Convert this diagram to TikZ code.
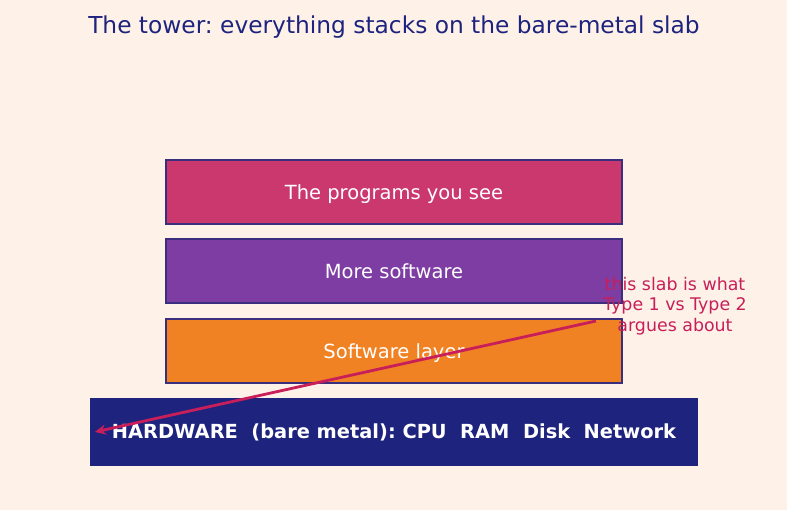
\documentclass[tikz,border=0pt]{standalone}
\usepackage{fontspec}
\setmainfont{DejaVu Sans}
\usetikzlibrary{arrows.meta}
\frenchspacing
\definecolor{bg}{HTML}{FEF2E8}
\definecolor{titlec}{HTML}{1E237E}
\definecolor{pinkc}{HTML}{CA386E}
\definecolor{purpc}{HTML}{7E3DA3}
\definecolor{orangec}{HTML}{F08224}
\definecolor{hwc}{HTML}{1E237E}
\definecolor{edgec}{HTML}{3A2E7E}
\definecolor{notec}{HTML}{C81E5A}
\begin{document}
\begin{tikzpicture}[x=1pt,y=-1pt,
  slab/.style={draw=edgec,line width=1.5pt,minimum width=456pt,minimum height=64pt,inner sep=0pt,text=white,font=\fontsize{19.5}{23}\selectfont},
  hwslab/.style={fill=hwc,minimum width=608pt,minimum height=68pt,inner sep=0pt,text=white,font=\bfseries\fontsize{19.4}{23}\selectfont},
  note/.style={text=notec,align=center,font=\fontsize{17.4}{20.5}\selectfont},
  arr/.style={draw=notec,line width=2.8pt,-{Stealth[length=11pt,width=10pt]}}]
\fill[bg] (0,0) rectangle (787,510);
\useasboundingbox (0,0) rectangle (787,510);
\node[text=titlec,font=\fontsize{23.3}{27}\selectfont] (title) at (394,27) {The tower: everything stacks on the bare-metal slab};
\node[slab,fill=pinkc,text depth=-2pt] (apps) at (394,192) {The programs you see};
\node[slab,fill=purpc,text depth=-2pt] (more) at (394,271) {More software};
\node[slab,fill=orangec,text depth=-2pt] (soft) at (394,351) {Software layer};
\node[hwslab] (hw) at (394,432) {HARDWARE\ \ (bare metal): CPU\ \ RAM\ \ Disk\ \ Network};
\node[note] (note) at (675,306) {this slab is what\\Type 1 vs Type 2\\argues about};
\coordinate (nstart) at (596,321);
\coordinate (hwend) at ([xshift=5pt]hw.west);
\draw[arr] (nstart) -- (hwend);
\end{tikzpicture}
\end{document}
